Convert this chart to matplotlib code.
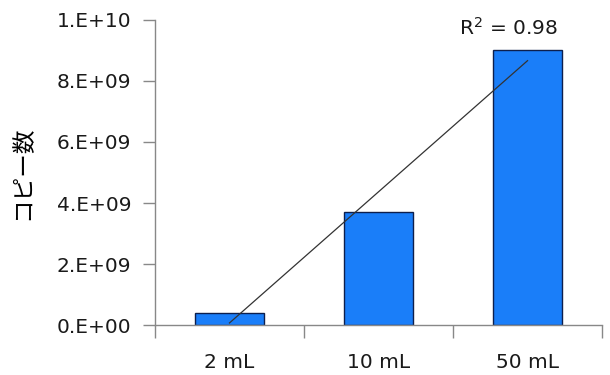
import numpy as np
import matplotlib
matplotlib.use("Agg")
import matplotlib.pyplot as plt
from matplotlib.ticker import FixedLocator

plt.rcParams['font.family'] = ['DejaVu Sans', 'Noto Sans CJK JP']

categories = ["2 mL", "10 mL", "50 mL"]
copies = [0.4e9, 3.7e9, 9.0e9]
yticks = [0, 2e9, 4e9, 6e9, 8e9, 1e10]
ytick_labels = ["0.E+00", "2.E+09", "4.E+09", "6.E+09", "8.E+09", "1.E+10"]

fig = plt.figure(figsize=(6.1, 3.75), dpi=100)
ax = fig.add_axes([0.254, 0.1333, 0.733, 0.8134])

x = np.arange(len(categories))
ax.bar(x, copies, width=0.46, color="#1a7ef9", edgecolor="#0d1f4d", linewidth=1.0, zorder=2)

# linear trend line
slope, icpt = np.polyfit(x, copies, 1)
fit = slope * x + icpt
r2 = 1 - np.sum((np.array(copies) - fit) ** 2) / np.sum((np.array(copies) - np.mean(copies)) ** 2)
ax.plot([x[0], x[-1]], [fit[0], fit[-1]], color="#333333", lw=0.9, zorder=3)
ax.text(1.87, 9.75e9, "R$^2$ = %.2f" % r2, ha="center", va="center", fontsize=14.5, color="#1a1a1a")

ax.set_xlim(-0.5, len(categories) - 0.5)
ax.set_ylim(0, 1e10)
ax.set_xticks(x)
ax.set_xticklabels(categories, fontsize=14.5)
ax.xaxis.set_minor_locator(FixedLocator([-0.5, 0.5, 1.5, 2.5]))
ax.tick_params(axis="x", which="major", length=0, pad=20, colors="#1a1a1a")
ax.tick_params(axis="x", which="minor", length=9, color="#888888", width=1)
ax.set_yticks(yticks)
ax.set_yticklabels(ytick_labels, fontsize=14.5)
ax.tick_params(axis="y", length=9, color="#888888", width=1, colors="#1a1a1a", pad=8)
for t in ax.get_yticklines():
    t.set_color("#888888")

for s in ["top", "right"]:
    ax.spines[s].set_visible(False)
for s in ["left", "bottom"]:
    ax.spines[s].set_color("#888888")
    ax.spines[s].set_linewidth(1)

ax.set_ylabel("コピー数", fontsize=17, labelpad=16, family=['Noto Sans CJK JP', 'DejaVu Sans'])

fig.savefig("out.png", dpi=100)
